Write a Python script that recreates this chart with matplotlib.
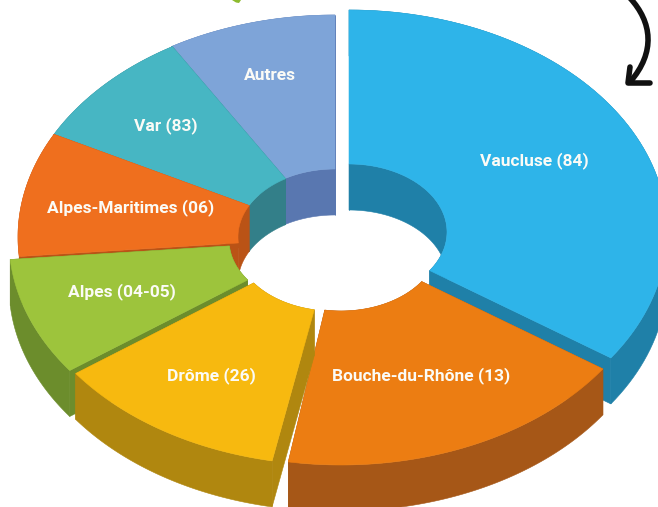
#!/usr/bin/env python3
import matplotlib
matplotlib.use("Agg")
import matplotlib.pyplot as plt
from matplotlib.patches import PathPatch, Polygon
from matplotlib.path import Path
import numpy as np

LABELS = [
    "Vaucluse (84)",
    "Bouche-du-Rhône (13)",
    "Drôme (26)",
    "Alpes (04-05)",
    "Alpes-Maritimes (06)",
    "Var (83)",
    "Autres",
]
SHARES = [34.6, 18.05, 12.35, 8.6, 9.05, 8.75, 8.6]

TOP_COLORS = ["#2EB4E9", "#EC7D12", "#F7B90F", "#9DC43C", "#EF6F1E", "#47B6C3", "#7EA4D8"]
WALL_COLORS = ["#1F80A8", "#A65717", "#B0870F", "#6C8D2C", "#BA5316", "#337F89", "#5977B0"]

# slice centres in image pixels, each slice is pulled out a little differently
CENTERS = [(349, 232), (341, 243), (333, 243), (327, 240), (336, 237), (336, 237), (335, 237)]
LABEL_POS = [(534, 161), (421, 376), (211, 376), (122, 292), (131, 208), (166, 126), (270, 75)]
# degrees left open at the start of a slice
START_GAP = [0, 0, 1.5, 0, 0, 0, 0]

OUTER = (318, 222)
INNER = (98, 68)
DEPTH = 46
DRAW_ORDER = [6, 0, 5, 4, 3, 1, 2]


def arc(center, radii, t0, t1, n=80):
    # angles are clockwise from the top of the ellipse
    t = np.radians(np.linspace(t0, t1, n))
    return np.column_stack([center[0] + radii[0] * np.sin(t), center[1] - radii[1] * np.cos(t)])


def band(points):
    lower = points + [0, DEPTH]
    return np.vstack([points, lower[::-1]])


def draw_slice(ax, center, t0, t1, top, wall):
    outer = arc(center, OUTER, t0, t1)
    inner = arc(center, INNER, t0, t1)
    faces = [
        band(inner),
        band(outer),
        band(np.array([inner[0], outer[0]])),
        band(np.array([inner[-1], outer[-1]])),
    ]
    for face in faces:
        ax.add_patch(Polygon(face, closed=True, facecolor=wall, edgecolor=wall, linewidth=0.4))
    ax.add_patch(Polygon(np.vstack([outer, inner[::-1]]), closed=True, facecolor=top, edgecolor=top, linewidth=0.4))


def main():
    fig = plt.figure(figsize=(6.58, 5.07), dpi=100)
    ax = fig.add_axes([0, 0, 1, 1])
    ax.set_xlim(0, 658)
    ax.set_ylim(507, 0)
    ax.axis("off")

    edges = np.concatenate([[0], np.cumsum(SHARES)]) / np.sum(SHARES) * 360
    for i in DRAW_ORDER:
        draw_slice(ax, CENTERS[i], edges[i] + START_GAP[i], edges[i + 1], TOP_COLORS[i], WALL_COLORS[i])

    for label, (x, y) in zip(LABELS, LABEL_POS):
        ax.text(x, y, label, color="#FBFBF6", fontsize=12.5, fontweight="bold", family="Roboto",
                ha="center", va="center")

    # hand-drawn arrow, top right
    curve = Path(
        [(630, -2), (652, 22), (656, 52), (630, 82)],
        [Path.MOVETO, Path.CURVE4, Path.CURVE4, Path.CURVE4],
    )
    ax.add_patch(PathPatch(curve, facecolor="none", edgecolor="#111111", linewidth=4, capstyle="round"))
    ax.plot([630, 628, 650], [67, 83, 83], color="#111111", linewidth=4,
            solid_capstyle="round", solid_joinstyle="round")

    # bit of a green arrow cut off by the top edge
    ax.add_patch(Polygon([(232, 0), (241, 0), (239, 3), (236, 2.5)], closed=True, facecolor="#8DBB2E", edgecolor="none"))

    fig.savefig("out.png", dpi=100)
    plt.close(fig)


if __name__ == "__main__":
    main()
